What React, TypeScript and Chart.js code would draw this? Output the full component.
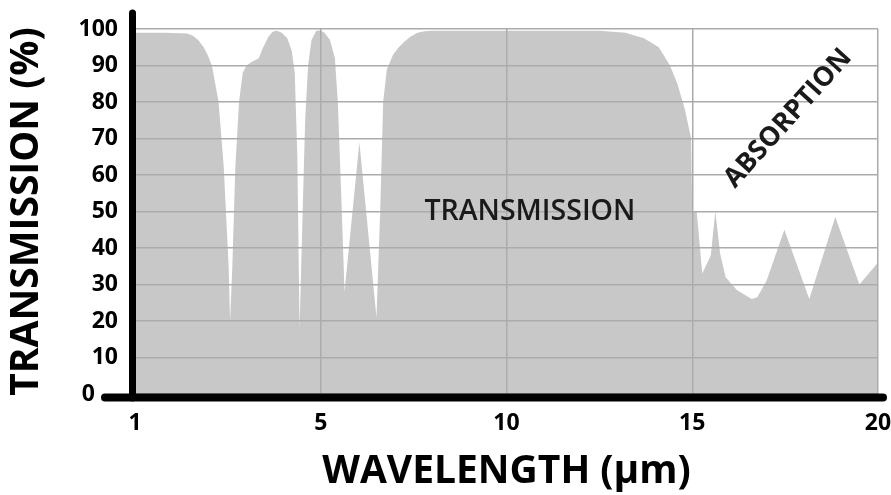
import React, { useEffect, useRef } from "react";
import { Chart, registerables } from "chart.js";

Chart.register(...registerables);

// Position along the (equally spaced) wavelength axis; tick at 0 is labelled "1"
const wavelengthPos = [
  0, 0.8, 1.4, 1.55, 1.7, 1.85, 1.95, 2.07, 2.25, 2.39, 2.52, 2.56, 2.62, 2.7, 2.8,
  2.9, 3.0, 3.15, 3.33, 3.45, 3.6, 3.7, 3.78, 3.88, 3.95, 4.1, 4.22, 4.3, 4.37, 4.43,
  4.5, 4.58, 4.66, 4.75, 4.88, 5.0, 5.1, 5.25, 5.38, 5.46, 5.55, 5.64, 6.04, 6.5,
  6.6, 6.68, 6.78, 6.95, 7.1, 7.25, 7.4, 7.6, 7.8, 8.0, 12.5, 13.2, 13.7, 14.1, 14.4,
  14.6, 14.8, 14.97, 15.0, 15.12, 15.27, 15.5, 15.62, 15.75, 15.9, 16.2, 16.6,
  16.75, 17.0, 17.48, 18.15, 18.85, 19.5, 20,
];
const transmission = [
  99, 99, 98.8, 98.2, 97, 95, 93, 90, 80, 62, 35, 20, 35, 62, 80,
  88, 90, 91, 92, 95, 98, 99.2, 99.5, 99.3, 99, 97.5, 94, 88, 65, 18,
  45, 75, 90, 97, 99.5, 99.6, 99, 97, 92, 80, 55, 28, 69, 21,
  50, 80, 89, 93, 95, 96.5, 97.8, 99, 99.4, 99.5, 99.5, 99, 97.5, 95, 90,
  85, 78, 70, 50, 50, 33, 38, 50, 38.5, 32, 28.5, 26,
  26.5, 31, 45, 26, 48.5, 30, 36,
];

const xTickPos = [0, 5, 10, 15, 20];
const xTickLabels = ["1", "5", "10", "15", "20"];
const yTickValues = [0, 10, 20, 30, 40, 50, 60, 70, 80, 90, 100];

const yTitle = "TRANSMISSION (%)";
const xTitle = "WAVELENGTH (µm)";
const bandLabel = "TRANSMISSION";
const absorptionLabel = "ABSORPTION";

const FONT = "'Open Sans', 'DejaVu Sans', sans-serif";

const decorPlugin = {
  id: "decor",
  afterDraw(chart: any) {
    const { ctx, chartArea } = chart;
    const xs = chart.scales.x;
    const ys = chart.scales.y;
    const x0 = xs.getPixelForValue(0);
    const y0 = ys.getPixelForValue(0);
    ctx.save();
    ctx.strokeStyle = "#000";
    ctx.lineCap = "round";
    ctx.lineWidth = 7;
    ctx.beginPath();
    ctx.moveTo(x0 - 2.5, chartArea.top - 16);
    ctx.lineTo(x0 - 2.5, y0 + 4);
    ctx.stroke();
    ctx.lineWidth = 8;
    ctx.beginPath();
    ctx.moveTo(x0 - 30, y0 + 3.5);
    ctx.lineTo(chartArea.right + 5, y0 + 3.5);
    ctx.stroke();

    ctx.fillStyle = "#1a1a1a";
    ctx.font = `600 28.5px ${FONT}`;
    ctx.textAlign = "center";
    ctx.textBaseline = "middle";
    ctx.fillText(bandLabel, xs.getPixelForValue(10.63), ys.getPixelForValue(50));
    ctx.font = `700 27px ${FONT}`;
    ctx.translate(xs.getPixelForValue(17.58), ys.getPixelForValue(75.5));
    ctx.rotate((-48 * Math.PI) / 180);
    ctx.fillText(absorptionLabel, 0, 0);
    ctx.restore();
  },
};

export default function App() {
  const ref = useRef<HTMLCanvasElement | null>(null);

  useEffect(() => {
    if (!ref.current) return;
    const points = wavelengthPos.map((p, i) => ({ x: p, y: transmission[i] }));
    const chart = new Chart(ref.current, {
      type: "line",
      data: {
        datasets: [
          {
            data: points,
            fill: "origin",
            backgroundColor: "#c8c8c8",
            borderWidth: 0,
            pointRadius: 0,
            tension: 0,
          },
        ],
      },
      options: {
        animation: false,
        responsive: true,
        maintainAspectRatio: false,
        layout: { padding: { left: 0, top: 29, right: 13, bottom: 0 } },
        plugins: { legend: { display: false }, tooltip: { enabled: false } },
        scales: {
          x: {
            type: "linear",
            min: 0,
            max: 20,
            afterFit: (s: any) => {
              s.height = 101;
              s.paddingLeft = 0;
              s.paddingRight = 0;
            },
            afterBuildTicks: (s: any) => {
              s.ticks = xTickPos.map((v) => ({ value: v }));
            },
            grid: { color: "#ababab", lineWidth: 1.5, drawTicks: false, z: 1 },
            border: { display: false },
            ticks: {
              padding: 16,
              color: "#000",
              font: { family: FONT, size: 23, weight: "bold" },
              callback: (_v: any, i: number) => xTickLabels[i],
              maxRotation: 0,
            },
            title: {
              display: true,
              text: xTitle,
              color: "#000",
              font: { family: FONT, size: 39, weight: "bold" },
              padding: { top: 0, bottom: 0 },
            },
          },
          y: {
            min: 0,
            max: 100,
            afterFit: (s: any) => {
              s.width = 135;
              s.paddingTop = 0;
              s.paddingBottom = 0;
            },
            afterBuildTicks: (s: any) => {
              s.ticks = yTickValues.map((v) => ({ value: v }));
            },
            grid: { color: "#ababab", lineWidth: 1.5, drawTicks: false, z: 1 },
            border: { display: false },
            ticks: {
              padding: 17,
              color: "#000",
              font: { family: FONT, size: 23, weight: "bold" },
              callback: (v: any) => (v === 0 ? "0\u2002\u2002" : String(v)),
            },
            title: {
              display: true,
              text: yTitle,
              color: "#000",
              font: { family: FONT, size: 39, weight: "bold" },
              padding: { top: 3, bottom: 0 },
            },
          },
        },
      },
      plugins: [decorPlugin],
    } as any);
    return () => chart.destroy();
  }, []);

  return (
    <div style={{ position: "absolute", left: 0, top: 0, width: 891, height: 495, background: "#fff" }}>
      <canvas ref={ref} />
    </div>
  );
}
